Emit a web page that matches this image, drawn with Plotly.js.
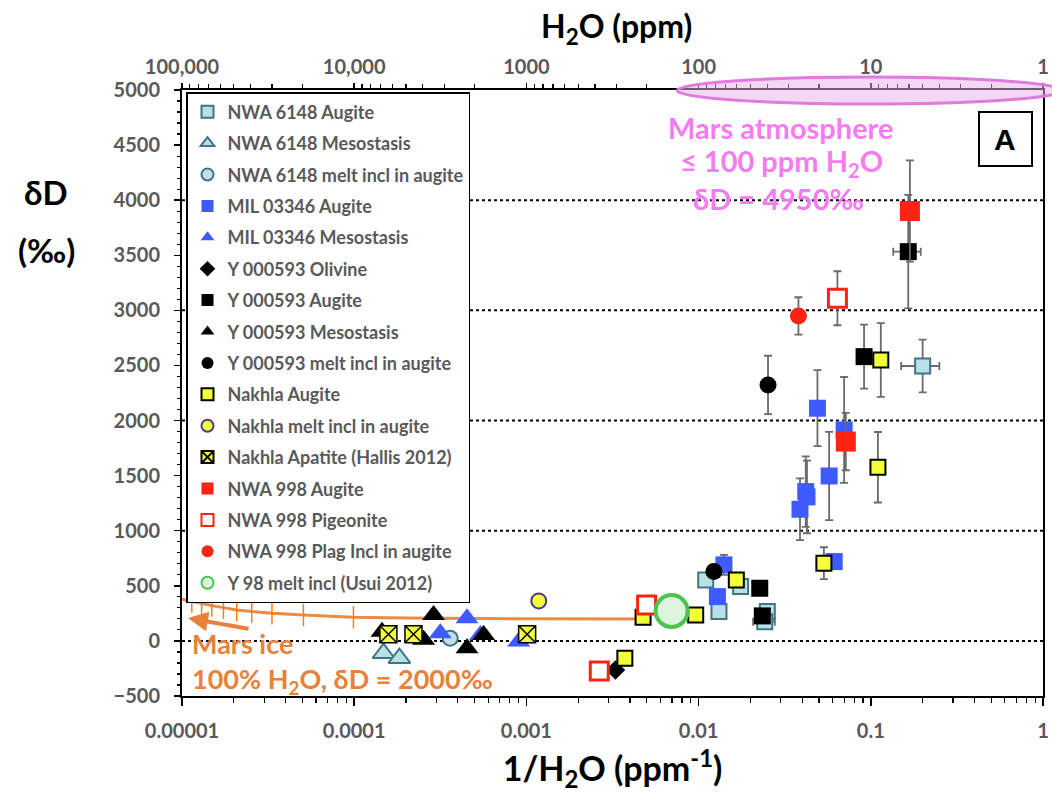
<!DOCTYPE html>
<html>
<head>
<meta charset="utf-8">
<script src="https://cdn.plot.ly/plotly-3.0.1.min.js"></script>
<style>html,body{margin:0;padding:0;background:#fff;}#chart{width:1052px;height:794px;}</style>
</head>
<body>
<div id="chart"></div>
<script>
// ---- Data (1/H2O in ppm^-1, deltaD in permil) ----
const nwa6148AugX = [0.200, 0.0110, 0.01754, 0.01313, 0.02506, 0.02422];
const nwa6148AugY = [2495, 553, 493, 266, 266, 175];
const nwa6148AugEY = [240, 40, 45, 50, 40, 40];
const nwa6148AugEX = [0.05, 0, 0, 0, 0, 0.0035];

const nwa6148MesoX = [1.48e-4, 1.83e-4];
const nwa6148MesoY = [-112, -157];

const nwa6148MeltX = [3.61e-4];
const nwa6148MeltY = [24];

const milAugX = [0.0490, 0.0700, 0.0573, 0.0419, 0.0426, 0.0388, 0.0613, 0.01403, 0.01286];
const milAugY = [2112, 1915, 1497, 1355, 1307, 1195, 720, 690, 402];
const milAugEY = [345, 480, 400, 320, 330, 280, 0, 90, 50];

const milMesoX = [4.52e-4, 3.16e-4, 5.41e-4, 9.02e-4];
const milMesoY = [206, 70, 54, -6];

const yOlivX = [0.00329];
const yOlivY = [-263];

const yAugX = [0.165, 0.0914, 0.02265, 0.02344];
const yAugY = [3533, 2580, 478, 227];
const yAugEY = [515, 290, 30, 30];
const yAugEX = [0.03, 0, 0, 0];

const yMesoX = [2.89e-4, 1.45e-4, 2.53e-4, 4.52e-4, 5.65e-4];
const yMesoY = [236, 84, 10, -66, 54];

const yMeltX = [0.0253, 0.01227];
const yMeltY = [2323, 629];
const yMeltEY = [265, 0];

const nakAugX = [0.1143, 0.110, 0.0534, 0.01656, 0.00962, 0.00476, 0.00373];
const nakAugY = [2550, 1576, 705, 553, 236, 215, -157];
const nakAugEY = [335, 320, 145, 0, 0, 0, 0];
const nakAugEX = [0, 0.004, 0, 0, 0, 0, 0];

const nakMeltX = [0.00118];
const nakMeltY = [363];
const nakMeltEX = [0.0001];

const nakApX = [1.58e-4, 2.21e-4, 1.01e-3];
const nakApY = [60, 60, 60];

const nwa998AugX = [0.1687, 0.0716];
const nwa998AugY = [3902, 1809];
const nwa998AugEY = [460, 260];

const nwa998PigX = [0.0640, 0.00499, 0.00265];
const nwa998PigY = [3110, 327, -272];
const nwa998PigEY = [245, 0, 0];

const nwa998PlagX = [0.0380];
const nwa998PlagY = [2949];
const nwa998PlagEY = [170];

const y98X = [0.00697];
const y98Y = [272];
const y98EY = [35];
const y98EX = [0.0004];

// Mars ice mixing curve
const iceX = [1.0e-5, 1.14e-5, 1.30e-5, 1.49e-5, 1.74e-5, 2.08e-5, 2.54e-5, 3.33e-5, 5.07e-5, 9.9e-5, 2e-4, 5e-4, 1e-3, 5e-3];
const iceY = [378, 357, 342, 320, 302, 281, 266, 251, 236, 215, 208, 203, 200, 198];
const iceTickX = [1.14e-5, 1.30e-5, 1.49e-5, 1.74e-5, 2.08e-5, 2.54e-5, 3.33e-5, 5.07e-5, 9.9e-5];
const iceTickY = [357, 342, 320, 302, 281, 266, 251, 236, 215];

// Axis ticks
const xTickVals = [1e-5, 1e-4, 1e-3, 1e-2, 1e-1, 1];
const xTickText = ['0.00001', '0.0001', '0.001', '0.01', '0.1', '1'];
const topTickVals = [100000, 10000, 1000, 100, 10, 1];
const topTickText = ['100,000', '10,000', '1000', '100', '10', '1'];
const minorDigits = [2, 3, 4, 5, 6, 7, 8, 9];
const gridValues = [0, 1000, 2000, 3000, 4000];

// minor tick positions (axis decoration)
function logMinors(decades){ const out = []; decades.forEach(d => minorDigits.forEach(m => out.push(d * m))); return out; }
const xMinor = logMinors([1e-5, 1e-4, 1e-3, 1e-2, 1e-1]);
const topMinor = logMinors([1, 10, 100, 1000, 10000]);

// ---- Styling ----
const FONT = 'Lato, "Open Sans", "DejaVu Sans", sans-serif';
const GREY = '#595959';
const ERRC = '#6B6B6B';
function ey(arr){ return {type:'data', array:arr, visible:true, color:ERRC, thickness:1.8, width:4}; }
function ex(arr){ return {type:'data', array:arr, visible:true, color:ERRC, thickness:1.8, width:4}; }
function pts(name, x, y, marker, extra){
  return Object.assign({type:'scatter', mode:'markers', name:name, legendgroup:name, x:x, y:y, marker:marker, cliponaxis:false}, extra||{});
}

const traces = [
  {type:'scatter', mode:'lines', x:iceX, y:iceY, line:{color:'#EB8A44', width:3}, showlegend:false, hoverinfo:'skip'},
  {type:'scatter', mode:'markers', x:iceTickX, y:iceTickY, marker:{symbol:'line-ns-open', size:16, line:{color:'#EB8A44', width:1.5}}, showlegend:false, hoverinfo:'skip'},
  pts('NWA 6148 Augite', nwa6148AugX, nwa6148AugY, {symbol:'square', size:15, color:'#B8E1E6', line:{color:'#3E7780', width:2}}, {error_y:ey(nwa6148AugEY), error_x:ex(nwa6148AugEX)}),
  pts('NWA 6148 Mesostasis', nwa6148MesoX, nwa6148MesoY, {symbol:'triangle-up', size:19, color:'#B8E1E6', line:{color:'#3E7780', width:2}}),
  pts('NWA 6148 melt incl in augite', nwa6148MeltX, nwa6148MeltY, {symbol:'circle', size:15, color:'#C3DDEF', line:{color:'#3E7780', width:2}}),
  pts('MIL 03346 Augite', milAugX, milAugY, {symbol:'square', size:17, color:'#3D5BFF', line:{width:0}}, {error_y:ey(milAugEY)}),
  pts('MIL 03346 Mesostasis', milMesoX, milMesoY, {symbol:'triangle-up', size:20, color:'#3D5BFF', line:{width:0}}),
  pts('Y 000593 Olivine', yOlivX, yOlivY, {symbol:'diamond', size:15, color:'#000000'}),
  pts('Y 000593 Augite', yAugX, yAugY, {symbol:'square', size:17, color:'#000000'}, {error_y:ey(yAugEY), error_x:ex(yAugEX)}),
  pts('Y 000593 Mesostasis', yMesoX, yMesoY, {symbol:'triangle-up', size:20, color:'#000000'}),
  pts('Y 000593 melt incl in augite', yMeltX, yMeltY, {symbol:'circle', size:17, color:'#000000'}, {error_y:ey(yMeltEY)}),
  pts('Nakhla Augite', nakAugX, nakAugY, {symbol:'square', size:15, color:'#F2FF3A', line:{color:'#000000', width:2}}, {error_y:ey(nakAugEY), error_x:ex(nakAugEX)}),
  pts('Nakhla melt incl in augite', nakMeltX, nakMeltY, {symbol:'circle', size:15, color:'#F2FF3A', line:{color:'#4B3A8C', width:2}}, {error_x:ex(nakMeltEX)}),
  pts('Nakhla Apatite (Hallis 2012)', nakApX, nakApY, {symbol:'square-x', size:17, color:'#F2FF3A', line:{color:'#000000', width:1.5}}),
  pts('NWA 998 Augite', nwa998AugX, nwa998AugY, {symbol:'square', size:20, color:'#FF2314'}, {error_y:ey(nwa998AugEY)}),
  pts('NWA 998 Pigeonite', nwa998PigX, nwa998PigY, {symbol:'square', size:18, color:'#FFFFFF', line:{color:'#FF2314', width:3}}, {error_y:ey(nwa998PigEY)}),
  pts('NWA 998 Plag Incl in augite', nwa998PlagX, nwa998PlagY, {symbol:'circle', size:17, color:'#FF2314'}, {error_y:ey(nwa998PlagEY)}),
  pts('Y 98 melt incl (Usui 2012)', y98X, y98Y, {symbol:'circle', size:32, color:'#DCF5DC', line:{color:'#4CC34C', width:4}}, {error_y:ey(y98EY), error_x:ex(y98EX)}),
  {type:'scatter', mode:'markers', x:[1], y:[-1000], xaxis:'x2', showlegend:false, hoverinfo:'skip', marker:{opacity:0}}
];

const PL = 182, PR = 1043, PT = 90, PB = 696;
const W = PR - PL, H = PB - PT;
const px = v => (v - PL) / W;
const py = v => (PB - v) / H;

const shapes = gridValues.map(v => ({type:'line', xref:'paper', yref:'y', x0:0, x1:1, y0:v, y1:v, layer:'below', line:{color:'#000000', width:2, dash:'dot'}}));
shapes.push({type:'circle', xref:'paper', yref:'paper', x0:px(677), x1:px(1062), y0:py(104), y1:py(77), fillcolor:'rgba(232,175,232,0.5)', line:{color:'#E07BDE', width:3}, layer:'above'});
shapes.push({type:'rect', xref:'paper', yref:'paper', x0:px(979), x1:px(1032), y0:py(166), y1:py(112), fillcolor:'#FFFFFF', line:{color:'#000000', width:2}, layer:'above'});

const PINK = '#F57CF0';
const ORANGE = '#E8813A';
function note(x, y, text, font, anchor){
  return {xref:'paper', yref:'paper', x:px(x), y:py(y), text:text, showarrow:false, xanchor:anchor||'center', yanchor:'middle', font:font};
}
const pinkFont = {family:FONT, size:29, color:PINK, weight:'bold'};
const orangeFont = {family:FONT, size:27, color:ORANGE, weight:'bold'};
const titleFont = {family:FONT, size:34, color:'#000', weight:'bold'};
const annotations = [
  note(1005, 139, 'A', {family:'"Liberation Sans", Arial, sans-serif', size:30, color:'#000', weight:'bold'}),
  note(781, 127, 'Mars atmosphere', pinkFont),
  note(781, 163, '≤ 100 ppm H<sub>2</sub>O', pinkFont),
  note(778, 198, 'δD = 4950‰', pinkFont),
  note(190, 643, 'Mars ice', orangeFont, 'left'),
  note(190, 680, '100% H<sub>2</sub>O, δD = 2000‰', orangeFont, 'left'),
  {xref:'paper', yref:'paper', x:px(188), y:py(618), ax:62, ay:11, text:'', showarrow:true, arrowhead:2, arrowsize:1, arrowwidth:4, arrowcolor:ORANGE},
  note(46, 192, 'δD', {family:FONT, size:33, color:'#000', weight:'bold'}),
  note(46, 250, '(‰)', {family:FONT, size:33, color:'#000', weight:'bold'}),
  note(616, 28, 'H<sub>2</sub>O (ppm)', {family:FONT, size:32, color:'#000', weight:'bold'})
];

const tickFont = {family:FONT, size:20, color:GREY, weight:'bold'};

const layout = {
  width:1052, height:794,
  margin:{l:PL, r:1052-PR, t:PT, b:794-PB, pad:0},
  paper_bgcolor:'#FFFFFF', plot_bgcolor:'#FFFFFF',
  font:{family:FONT},
  showlegend:true,
  legend:{x:px(186), y:py(92), xanchor:'left', yanchor:'top', bgcolor:'#FFFFFF', bordercolor:'#000000', borderwidth:1.5,
          font:{family:FONT, size:18, color:GREY, weight:'bold'}, traceorder:'grouped', tracegroupgap:5, itemsizing:'constant', itemwidth:30},
  xaxis:{type:'log', range:[-5, 0], tickmode:'array', tickvals:xTickVals, ticktext:xTickText,
         ticks:'outside', ticklen:8, tickwidth:1.5, tickcolor:'#000', ticklabelstandoff:8,
         minor:{tickmode:'array', tickvals:xMinor, ticks:'outside', ticklen:5, tickwidth:1.2, tickcolor:'#000', showgrid:false},
         showline:true, linecolor:'#000', linewidth:2, showgrid:false, zeroline:false, tickfont:tickFont,
         title:{text:'1/H<sub>2</sub>O (ppm<sup>-1</sup>)', font:titleFont, standoff:16}},
  xaxis2:{type:'log', overlaying:'x', side:'top', range:[5, 0], tickmode:'array', tickvals:topTickVals, ticktext:topTickText,
          ticks:'outside', ticklen:5, tickwidth:1.5, tickcolor:'#000', ticklabelstandoff:1,
          minor:{tickmode:'array', tickvals:topMinor, ticks:'outside', ticklen:4, tickwidth:1.2, tickcolor:'#000', showgrid:false},
          showline:true, linecolor:'#000', linewidth:2, showgrid:false, zeroline:false, tickfont:tickFont},
  yaxis:{range:[-500, 5000], tick0:0, dtick:500, ticks:'outside', ticklen:6, tickwidth:1.5, tickcolor:'#000', ticklabelstandoff:10,
         minor:{tick0:0, dtick:100, ticks:'outside', ticklen:3, tickwidth:1.2, tickcolor:'#000', showgrid:false},
         showline:true, mirror:true, linecolor:'#000', linewidth:2, showgrid:false, zeroline:false, tickfont:tickFont},
  shapes:shapes,
  annotations:annotations
};

Plotly.newPlot('chart', traces, layout, {displayModeBar:false, staticPlot:true});
</script>
</body>
</html>
